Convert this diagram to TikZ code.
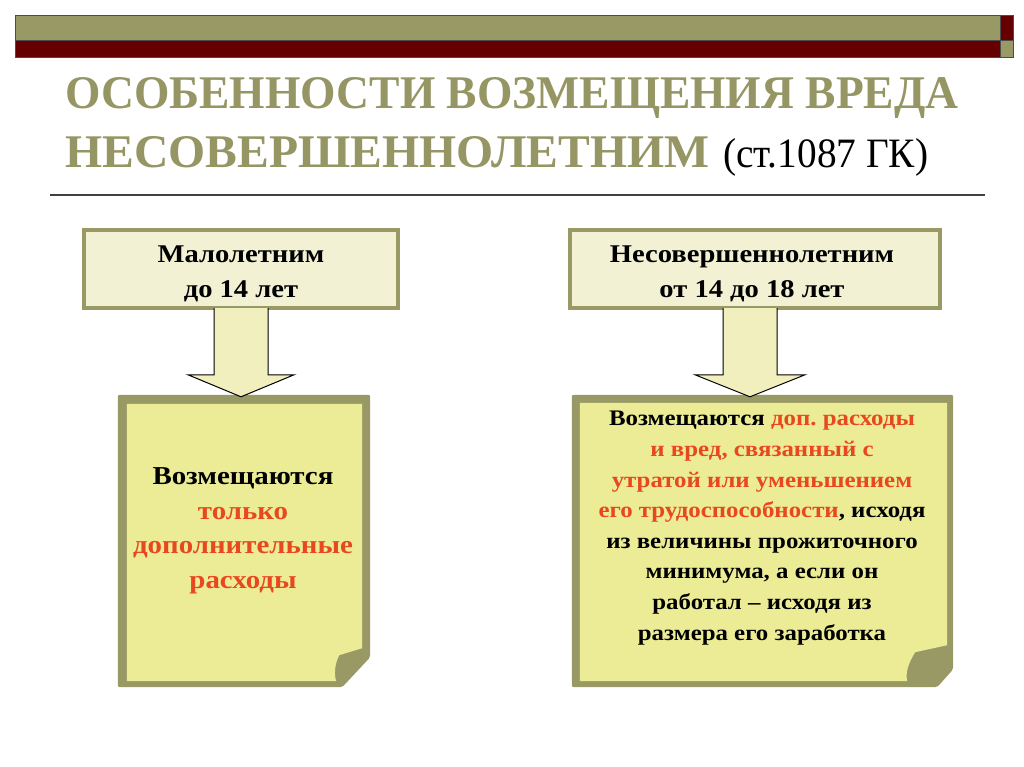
\documentclass[tikz,border=0pt]{standalone}
\usepackage{fontspec}
\usepackage{graphicx}
\setmainfont{Liberation Serif}
\newfontfamily\widefont[FakeStretch=1.12]{Liberation Serif}
\usetikzlibrary{calc}
\frenchspacing
\definecolor{olivec}{RGB}{153,153,102}
\definecolor{titleol}{RGB}{150,150,100}
\definecolor{darkredc}{RGB}{102,0,0}
\definecolor{topfill}{RGB}{243,241,212}
\definecolor{lowfill}{RGB}{236,236,150}
\definecolor{arrfill}{RGB}{241,239,190}
\definecolor{redtext}{RGB}{232,72,32}
\definecolor{sepgray}{RGB}{64,64,64}
\tikzset{
  topbox/.style={draw=olivec, line width=4pt, fill=topfill, inner sep=0pt},
  toptext/.style={align=center, inner sep=0pt,
    font=\widefont\bfseries\fontsize{25.5}{35}\selectfont},
  lowframe/.style={inner sep=0pt, draw=none},
  arrowbody/.style={draw=black, line width=1pt, fill=arrfill, line join=miter},
  lowtext/.style={align=center, inner sep=0pt},
}
\begin{document}
\begin{tikzpicture}[x=1pt,y=-1pt]
\useasboundingbox (0,0) rectangle (1024,767);
\fill[white] (0,0) rectangle (1024,767);
% top bars
\filldraw[fill=olivec, draw=black!70, line width=0.8pt] (15,15) rectangle (1000,40);
\filldraw[fill=darkredc, draw=black!70, line width=0.8pt] (15,40) rectangle (1000,57);
\filldraw[fill=darkredc, draw=black!70, line width=0.8pt] (1000,15) rectangle (1013,40);
\filldraw[fill=olivec, draw=black!70, line width=0.8pt] (1000,40) rectangle (1013,57);
% title
\node[anchor=base west, inner sep=0pt, text=titleol] (t1) at (65,109)
  {\resizebox{893pt}{31pt}{\bfseries ОСОБЕННОСТИ ВОЗМЕЩЕНИЯ ВРЕДА}};
\node[anchor=base west, inner sep=0pt, text=titleol] (t2) at (65,168)
  {\resizebox{644pt}{31pt}{\bfseries НЕСОВЕРШЕННОЛЕТНИМ}};
\node[anchor=base west, inner sep=0pt, text=black] (t3) at (723,168)
  {\resizebox{205pt}{29pt}{(ст.1087 ГК)}};
\draw[sepgray, line width=2.5pt] (50,195) -- (985,195);
% top boxes
\node[topbox, minimum width=314pt, minimum height=78pt] (b1) at (241,269) {};
\node[toptext] (bt1) at (241,274) {Малолетним\\до 14 лет};
\node[topbox, minimum width=370pt, minimum height=78pt] (b2) at (755,269) {};
\node[toptext] (bt2) at (752,274) {Несовершеннолетним\\от 14 до 18 лет};
% lower frames (named nodes for anchors)
\node[lowframe, minimum width=252pt, minimum height=292pt] (l1) at (244,541) {};
\node[lowframe, minimum width=381pt, minimum height=292pt] (l2) at (762.5,541) {};
% left lower box shape
\fill[olivec, rounded corners=2pt] (l1.north west) -- (l1.north east) -- ($(l1.south east)+(0,-30)$) -- ($(l1.south east)+(-28,0)$) -- (l1.south west) -- cycle;
\fill[lowfill] ($(l1.north west)+(9,9)$) -- ($(l1.north east)+(-8,9)$) -- ($(l1.south east)+(-8,-39)$) -- ($(l1.south east)+(-31,-32)$) .. controls ($(l1.south east)+(-36,-22)$) and ($(l1.south east)+(-36,-12)$) .. ($(l1.south east)+(-34,-6)$) -- ($(l1.south west)+(9,-6)$) -- cycle;
% right lower box shape
\fill[olivec, rounded corners=2pt] (l2.north west) -- (l2.north east) -- ($(l2.south east)+(0,-18)$) -- ($(l2.south east)+(-16,0)$) -- (l2.south west) -- cycle;
\fill[lowfill] ($(l2.north west)+(8,8)$) -- ($(l2.north east)+(-6,8)$) -- ($(l2.south east)+(-6,-42)$) -- ($(l2.south east)+(-38,-35)$) .. controls ($(l2.south east)+(-45,-24)$) and ($(l2.south east)+(-48,-14)$) .. ($(l2.south east)+(-46,-6)$) -- ($(l2.south west)+(8,-6)$) -- cycle;
% arrows
\coordinate (a1s) at ($(b1.south)+(0,-2)$);
\coordinate (a1t) at (a1s |- l1.north);
\filldraw[arrowbody] ($(a1s)+(-27,0)$) -- ($(a1t)+(-27,-20)$) -- ($(a1t)+(-53,-20)$) -- ($(a1t)+(0,2)$) -- ($(a1t)+(53,-20)$) -- ($(a1t)+(27,-20)$) -- ($(a1s)+(27,0)$);
\coordinate (a2s) at ($(b2.south)+(-5,-2)$);
\coordinate (a2t) at (a2s |- l2.north);
\filldraw[arrowbody] ($(a2s)+(-27,0)$) -- ($(a2t)+(-27,-20)$) -- ($(a2t)+(-55,-20)$) -- ($(a2t)+(0,2)$) -- ($(a2t)+(55,-20)$) -- ($(a2t)+(27,-20)$) -- ($(a2s)+(27,0)$);
% texts
\node[lowtext, font=\widefont\bfseries\fontsize{25.8}{34.5}\selectfont] (x1) at (243,531)
  {Возмещаются\\\textcolor{redtext}{только}\\\textcolor{redtext}{дополнительные}\\\textcolor{redtext}{расходы}};
\node[lowtext, font=\widefont\bfseries\fontsize{22.2}{30.6}\selectfont] (x2) at (762,528)
  {Возмещаются \textcolor{redtext}{доп. расходы}\\
   \textcolor{redtext}{и вред, связанный с}\\
   \textcolor{redtext}{утратой или уменьшением}\\
   \textcolor{redtext}{его трудоспособности}, исходя\\
   из величины прожиточного\\
   минимума, а если он\\
   работал – исходя из\\
   размера его заработка};
\end{tikzpicture}
\end{document}
